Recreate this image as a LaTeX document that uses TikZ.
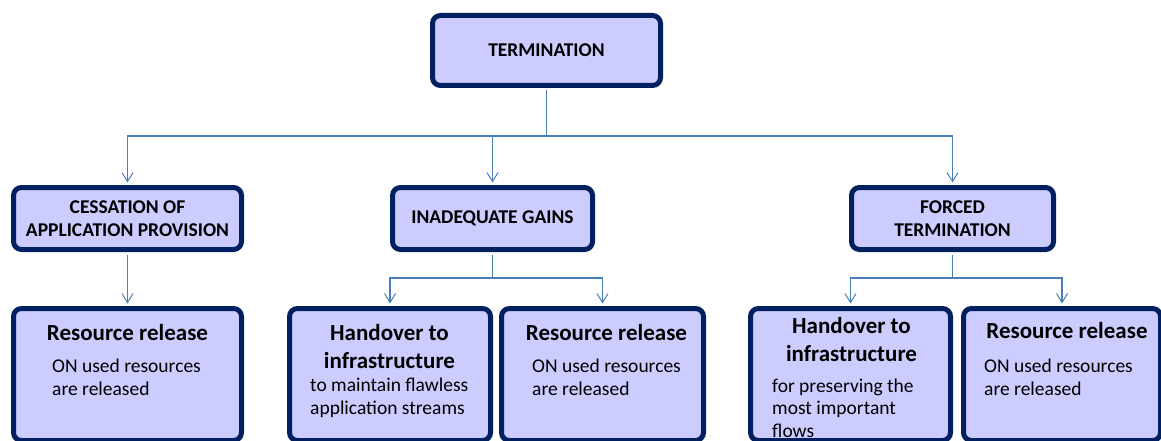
\documentclass[tikz,border=0pt]{standalone}
\usepackage{fontspec}
\setmainfont{Carlito}
\usetikzlibrary{arrows.meta}

\definecolor{boxline}{HTML}{002060}
\definecolor{boxfill}{HTML}{CCCCFF}
\definecolor{linkblue}{HTML}{4A7EBB}

\tikzset{
  box/.style={draw=boxline, fill=boxfill, line width=5pt, rounded corners=8pt, inner sep=0pt, align=center},
  head/.style={box, font=\fontsize{19.5}{23}\selectfont\bfseries},
  leaf/.style={box, minimum height=132pt},
  leafhead/.style={anchor=base, align=center, inner sep=0pt, font=\fontsize{23}{28}\selectfont\bfseries},
  leafbody/.style={anchor=base west, align=left, inner sep=0pt, font=\fontsize{19.5}{22.5}\selectfont},
  trunk/.style={draw=linkblue, line width=1.5pt, shorten <=2.5pt},
  link/.style={draw=linkblue, line width=1.5pt, shorten >=2.5pt, -{Straight Barb[length=9pt,width=11pt,line width=1pt]}},
}

\begin{document}
\begin{tikzpicture}[x=1pt, y=-1pt]
\useasboundingbox (0,0) rectangle (1161,441);
\clip (0,0) rectangle (1161,441);

% top
\node[head, minimum width=228pt, minimum height=70pt] (term) at (546.5,50.5) {TERMINATION};

% causes
\node[head, minimum width=228pt, minimum height=62pt] (cess) at (127.5,218.5) {CESSATION OF\\APPLICATION PROVISION};
\node[head, minimum width=200pt, minimum height=62pt] (gains) at (492.5,218.5) {INADEQUATE GAINS};
\node[head, minimum width=202pt, minimum height=62pt] (forced) at (952.5,218.5) {FORCED\\TERMINATION};

% actions
\node[leaf, minimum width=228pt] (rel1) at (127.5,374.5) {};
\node[leaf, minimum width=201pt] (hand1) at (390,374.5) {};
\node[leaf, minimum width=202pt] (rel2) at (602.5,374.5) {};
\node[leaf, minimum width=200pt] (hand2) at (850.5,374.5) {};
\node[leaf, minimum width=197pt] (rel3) at (1062,374.5) {};

% texts, placed by the baseline of their last line
\node[leafhead] (rel1-t) at (127.5,340) {Resource release};
\node[leafbody] (rel1-b) at (52,395) {ON used resources\\are released};

\node[leafhead] (hand1-t) at (389.5,368) {Handover to\\infrastructure};
\node[leafbody] (hand1-b) at (310,414) {to maintain flawless\\application streams};

\node[leafhead] (rel2-t) at (606.5,340) {Resource release};
\node[leafbody] (rel2-b) at (532,395) {ON used resources\\are released};

\node[leafhead] (hand2-t) at (851.5,361) {Handover to\\infrastructure};
\node[leafbody] (hand2-b) at (772,437) {for preserving the\\most important\\flows};

\node[leafhead] (rel3-t) at (1067,338) {Resource release};
\node[leafbody] (rel3-b) at (984,395) {ON used resources\\are released};

% connectors
\coordinate (bus0) at (546.5,136);
\coordinate (bus1) at (492.5,278);
\coordinate (bus2) at (952.5,278);

\draw[trunk] (term.south) -- (bus0);
\draw[link] (bus0) -| (cess.north);
\draw[link] (bus0) -| (gains.north);
\draw[link] (bus0) -| (forced.north);

\draw[link, shorten <=2.5pt] (cess.south) -- (rel1.north);

\draw[trunk] (gains.south) -- (bus1);
\draw[link] (bus1) -| (hand1.north);
\draw[link] (bus1) -| (rel2.north);

\draw[trunk] (forced.south) -- (bus2);
\draw[link] (bus2) -| (hand2.north);
\draw[link] (bus2) -| (rel3.north);
\end{tikzpicture}
\end{document}
